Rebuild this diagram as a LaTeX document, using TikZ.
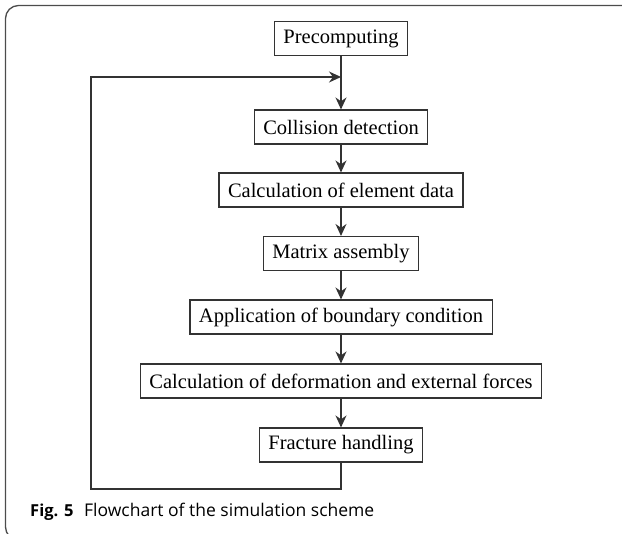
\documentclass[tikz,border=0pt]{standalone}
\usepackage{fontspec}
\setmainfont{Liberation Serif}
\newfontfamily\capfont{Open Sans}
\usetikzlibrary{arrows.meta}
\begin{document}
\begin{tikzpicture}[x=1pt,y=-1pt,
  stepbox/.style={draw=black!80,line width=1.1pt,rectangle,inner xsep=9pt,minimum height=34pt,font=\fontsize{20.5}{24}\selectfont},
  flow/.style={draw=black!80,line width=1.2pt,-{Stealth[length=12pt,width=11pt]}},
  plain/.style={draw=black!80,line width=1.2pt}]
\useasboundingbox (0,0) rectangle (622,534);
\draw[black!70,line width=1.3pt,rounded corners=13pt] (5.5,5.5) rectangle (640,540);
\node[stepbox] (p) at (341,38.5) {Precomputing};
\node[stepbox] (c) at (341,127) {Collision detection};
\node[stepbox] (e) at (341,190) {Calculation of element data};
\node[stepbox] (m) at (341,253.5) {Matrix assembly};
\node[stepbox] (a) at (341,317) {Application of boundary condition};
\node[stepbox] (d) at (341,381) {Calculation of deformation and external forces};
\node[stepbox] (f) at (341,445) {Fracture handling};
\coordinate (j) at (341,77);
\coordinate (bl) at (91,489);
\coordinate (tl) at (91,77);
\draw[flow] (p) -- (c);
\draw[flow] (c) -- (e);
\draw[flow] (e) -- (m);
\draw[flow] (m) -- (a);
\draw[flow] (a) -- (d);
\draw[flow] (d) -- (f);
\draw[flow] (f.south) |- (bl) -- (tl) -- (j);
\node[anchor=base west,inner sep=0pt,font=\capfont\bfseries\fontsize{16.5}{21}\selectfont] (fig) at (30,517) {Fig. 5};
\node[anchor=base west,inner sep=0pt,font=\capfont\fontsize{17.5}{21}\selectfont] (cap) at (84,517) {Flowchart of the simulation scheme};
\end{tikzpicture}
\end{document}
